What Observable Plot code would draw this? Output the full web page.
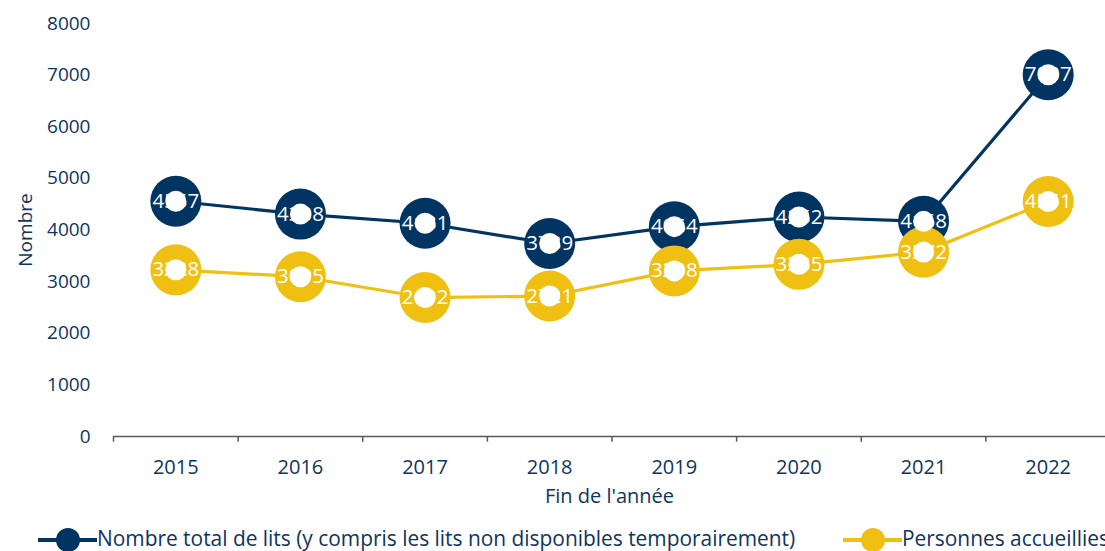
<!DOCTYPE html>
<html>
<head>
<meta charset="utf-8">
<script src="https://cdn.jsdelivr.net/npm/d3@7"></script>
<script src="https://cdn.jsdelivr.net/npm/@observablehq/plot@0.6"></script>
<style>
  html, body { margin: 0; padding: 0; background: #fff; overflow: hidden; width: 1105px; height: 551px; }
  #chart { position: absolute; left: 0; top: 0; }
  #legend { position: absolute; left: 0; top: 525px; width: 1105px; height: 26px; white-space: nowrap; font-family: "Open Sans", sans-serif; font-size: 20.9px; color: #0e3560; line-height: 26px; }
  .item { position: absolute; top: 0; display: flex; align-items: center; }
  .item svg { display: block; }
</style>
</head>
<body>
<div id="chart"></div>
<div id="legend"></div>
<script>
const years = ["2015", "2016", "2017", "2018", "2019", "2020", "2021", "2022"];
const totalLits = [4557, 4308, 4131, 3739, 4064, 4252, 4168, 7007];
const accueillies = [3228, 3095, 2692, 2721, 3208, 3335, 3572, 4551];
const yTicks = [0, 1000, 2000, 3000, 4000, 5000, 6000, 7000, 8000];
const seriesNames = ["Nombre total de lits (y compris les lits non disponibles temporairement)", "Personnes accueillies"];
const colors = ["#003462", "#EFC012"];

const data = [];
years.forEach((y, i) => {
  data.push({year: y, value: totalLits[i], series: seriesNames[0]});
  data.push({year: y, value: accueillies[i], series: seriesNames[1]});
});
const step = (1110 - 113) / years.length;

const plot = Plot.plot({
  width: 1105,
  height: 512,
  marginLeft: 113,
  marginRight: 0,
  marginTop: 23,
  marginBottom: 76,
  style: {fontFamily: "'Open Sans', sans-serif", fontSize: "20px", color: "#0e3560", background: "transparent", overflow: "visible"},
  x: {type: "band", domain: years, range: [113, 1110], padding: 0, round: false},
  y: {domain: [0, 8000], range: [436, 23]},
  color: {domain: seriesNames, range: colors},
  marks: [
    Plot.axisY({ticks: yTicks, tickSize: 0, tickPadding: 23, tickFormat: d => String(d), label: "Nombre", labelAnchor: "center", labelOffset: 95, labelArrow: "none", fontSize: 19}),
    Plot.axisX({tickSize: 0, tickPadding: 23, label: "Fin de l'année", labelAnchor: "center", labelOffset: 66, labelArrow: "none", fontSize: 20}),
    Plot.ruleY([0], {stroke: "#595959", strokeWidth: 1.5}),
    Plot.ruleX(years, {x: d => d, dx: -step / 2, y1: 0, y2: -110, stroke: "#595959", strokeWidth: 1.5}),
    Plot.ruleX(years.slice(-1), {x: d => d, dx: step / 2, y1: 0, y2: -110, stroke: "#595959", strokeWidth: 1.5}),
    Plot.line(data, {x: "year", y: "value", z: "series", stroke: "series", strokeWidth: 3.2}),
    Plot.dot(data, {x: "year", y: "value", fill: "series", r: 25.5, stroke: "none"}),
    Plot.dot(data, {x: "year", y: "value", fill: "white", r: 10.5, stroke: "none"}),
    Plot.text(data, {x: "year", y: "value", text: d => String(d.value), fill: "white", fontSize: 20.5})
  ]
});
document.getElementById("chart").appendChild(plot);

// legend
const legend = document.getElementById("legend");
const lefts = [38, 843];
seriesNames.forEach((name, i) => {
  const item = document.createElement("div");
  item.className = "item";
  item.style.left = lefts[i] + "px";
  item.innerHTML = `<svg width="59" height="26"><line x1="0" x2="59" y1="15" y2="15" stroke="${colors[i]}" stroke-width="4"/><circle cx="30" cy="15" r="12" fill="${colors[i]}"/></svg><span>${name}</span>`;
  legend.appendChild(item);
});
</script>
</body>
</html>
